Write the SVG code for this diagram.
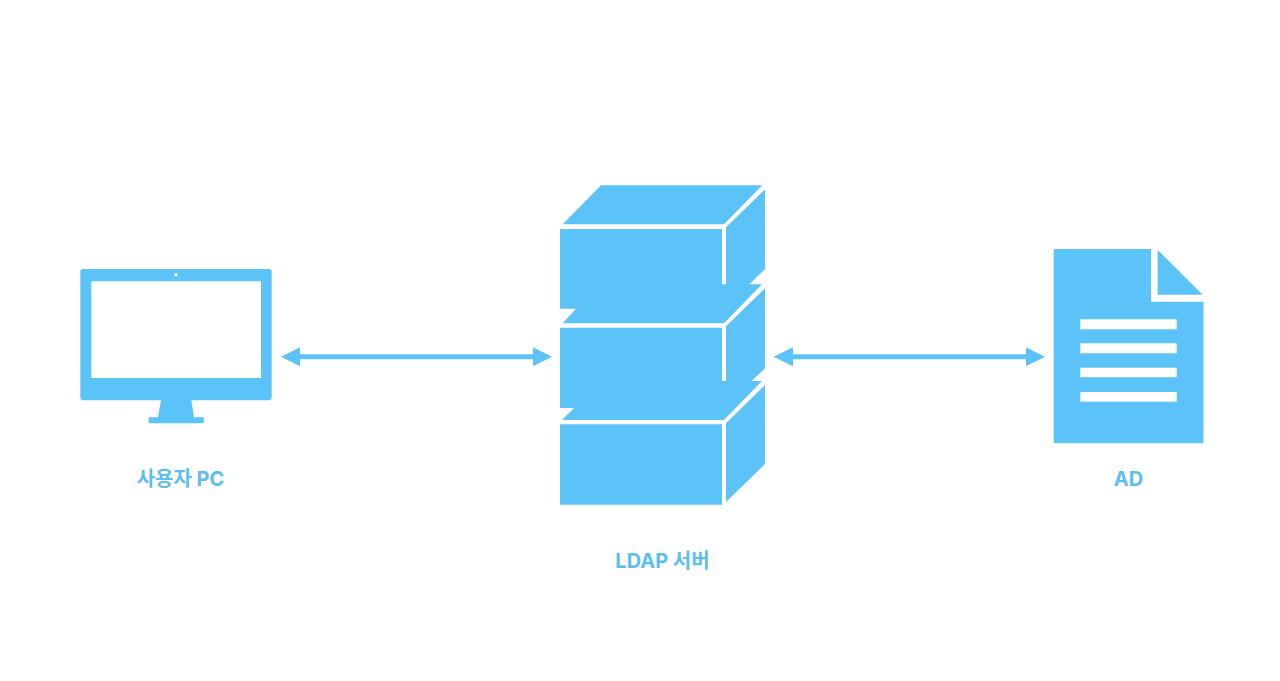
<svg xmlns="http://www.w3.org/2000/svg" width="1280" height="681" viewBox="0 0 1280 681">
<style>
.b{fill:#5bc3f8}
.w{fill:#fff}
.t{fill:#5cbdee;font-family:"Inter","Noto Sans CJK KR",sans-serif;font-weight:700;font-size:20px;text-anchor:middle}
</style>
<rect width="1280" height="681" fill="#fff"/>
<g id="connectors">
<path id="c1" class="b" d="M281 356.7 300 347.2V354.2H533V347.2L552 356.7 533 366.2V359.2H300V366.2Z"/>
<path id="c2" class="b" d="M773.500 356.700 793 347.200V354.200H1026V347.200L1045 356.700 1026 366.200V359.200H793V366.200Z"/>
</g>
<g id="user-pc">
<path class="b" fill-rule="evenodd" d="M83.300 269H268.700Q271.700 269 271.700 272V397.300Q271.700 400.300 268.700 400.300H191.300L194 417.300H203.700V423.300H148.700V417.300H158L161 400.300H83.300Q80.300 400.300 80.300 397.300V272Q80.300 269 83.300 269ZM91.300 281.300V378H261V281.300Z"/>
<circle class="w" cx="176" cy="274.700" r="1.800"/>
<text class="t" x="180.500" y="485.500">사용자 PC</text>
</g>
<g id="ldap-server">
<polygon class="b" points="601,185.300 762.300,185.300 724,224.300 562.700,224.300"/>
<polygon class="b" points="560,229 722,229 722,284.300 726,284.300 726,227.300 765,189.300 765,269 749.300,284.300 762,284.300 724,323.300 562.700,323.300 576,308.700 560,308.700"/>
<polygon class="b" points="560,327.700 722,327.700 722,381 726,381 726,326.300 765,288.300 765,368.300 751.700,381 762,381 724,420 562,420 574,408 560,408"/>
<polygon class="b" points="560,424.300 722,424.300 722,504.700 560,504.700"/>
<polygon class="b" points="726,423.300 765,385 765,464 726,502"/>
<text class="t" x="662.500" y="567.500">LDAP 서버</text>
</g>
<g id="ad">
<path class="b" d="M1054.700 249H1151V301.700H1203.500V442.300Q1203.500 443.300 1202.500 443.300H1054.700Q1053.700 443.300 1053.700 442.300V250Q1053.700 249 1054.700 249Z"/>
<polygon class="b" points="1157.700,250 1202.700,294.700 1157.700,294.700"/>
<rect class="w" x="1080.300" y="319.300" width="96.400" height="10"/>
<rect class="w" x="1080.300" y="343.300" width="96.400" height="10"/>
<rect class="w" x="1080.300" y="367.700" width="96.400" height="9.500"/>
<rect class="w" x="1080.300" y="392" width="96.400" height="9.700"/>
<text class="t" x="1128.500" y="485.500">AD</text>
</g>
</svg>
